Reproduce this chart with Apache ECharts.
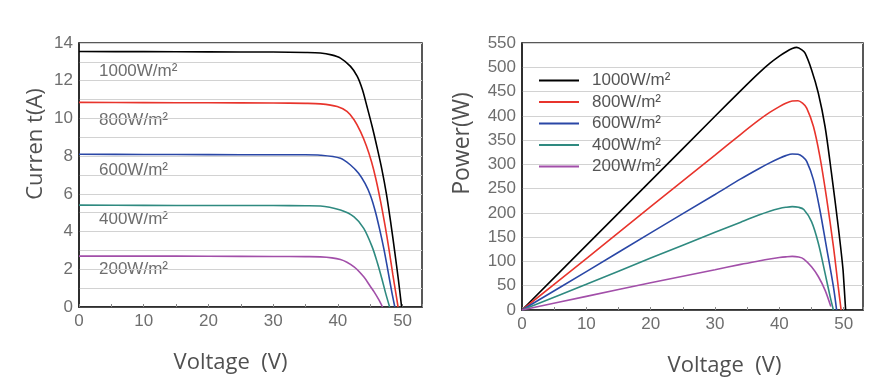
<!DOCTYPE html>
<html><head><meta charset="utf-8">
<script src="https://cdn.jsdelivr.net/npm/echarts@6/dist/echarts.min.js"></script>
<style>html,body{margin:0;padding:0;background:#fff}#c{width:896px;height:392px}</style>
</head><body><div id="c"></div>
<script>
// Irradiance levels (series names)
var irradiance = ['1000W/m²', '800W/m²', '600W/m²', '400W/m²', '200W/m²'];
var colors = ['#000000', '#e8342c', '#2a47a6', '#2f8a80', '#a24fa9'];

// I-V curves: [voltage V, current A]
var iv1000 = [[0,13.55],[10,13.54],[20,13.53],[30,13.52],[35,13.5],[37.3,13.47],[39,13.37],[40.4,13.2],[41.95,12.76],[43.0,12.23],[43.8,11.52],[44.5,10.63],[45.3,9.57],[46.1,8.4],[46.8,7.3],[47.5,6.0],[48.2,4.4],[48.8,2.9],[49.35,1.45],[49.85,0]];
var iv800  = [[0,10.85],[10,10.84],[20,10.83],[30,10.82],[35,10.8],[37.3,10.77],[39.9,10.63],[41.4,10.37],[42.5,9.93],[43.5,9.3],[44.4,8.55],[45.2,7.7],[45.9,6.75],[46.6,5.6],[47.3,4.3],[47.9,3.05],[48.5,1.7],[48.95,0.75],[49.3,0]];
var iv600  = [[0,8.1],[10,8.09],[20,8.08],[30,8.07],[35,8.07],[37.3,8.05],[40.4,7.89],[41.95,7.53],[43.2,7.09],[44.2,6.55],[45.05,5.9],[45.8,5.05],[46.5,4.05],[47.1,3.1],[47.7,2.0],[48.3,0.85],[48.8,0]];
var iv400  = [[0,5.4],[10,5.39],[20,5.38],[30,5.38],[35,5.37],[37.3,5.36],[40.4,5.14],[42.5,4.78],[44.0,4.17],[45.3,3.19],[46.1,2.35],[46.8,1.5],[47.4,0.71],[48.0,0]];
var iv200  = [[0,2.7],[10,2.7],[20,2.69],[30,2.68],[35,2.67],[37.3,2.66],[40.4,2.52],[42.5,2.13],[44.0,1.6],[45.0,1.1],[45.6,0.8],[46.3,0.4],[46.9,0]];

// P-V curves: [voltage V, power W]
var pv1000 = [[0,0],[10,133],[20,266],[30,399],[34,452],[36.8,488],[38.5,508],[40,523],[41,531.5],[42,538.5],[42.7,541],[43.5,536],[44.0,529],[45.0,495],[46.05,447],[47.1,378],[48.1,282],[49.15,172],[49.9,82],[50.3,0]];
var pv800  = [[0,0],[10,106],[20,213],[30,319],[34,362],[36.8,391],[38.5,407],[40,419],[41,426],[42,430.5],[42.9,431],[43.6,426],[44.25,416],[45.3,378],[46.3,316],[47.3,234],[48.4,131],[49.15,48],[49.6,0]];
var pv600  = [[0,0],[10,79],[20,159],[30,238],[34,270],[36.8,291],[38.5,303],[40,312.5],[41,318],[42,321.5],[42.9,321],[43.6,316],[44.25,306],[45.3,268],[46.3,206],[47.3,131],[48.4,48],[48.9,0]];
var pv400  = [[0,0],[10,53],[20,107],[30,160],[34,181],[36.8,195.5],[38.5,203.5],[40,209],[41,211.5],[42,213],[43,211.5],[43.8,207],[45.0,182],[46.05,138],[47.1,76],[47.9,27],[48.4,0]];
var pv200  = [[0,0],[10,28],[20,56],[30,83],[34,94],[36.8,101],[38.5,105],[40,108],[41,109.5],[42,110.5],[43,109],[43.8,105],[45.0,89],[46.05,69],[47.1,41],[48.0,7]];

var ivData = [iv1000, iv800, iv600, iv400, iv200];
var pvData = [pv1000, pv800, pv600, pv400, pv200];

// Axis ticks
var xMax = 53, xInterval = 10;
var iMax = 14, iInterval = 2;
var pMax = 550, pInterval = 50;

var chart = echarts.init(document.getElementById('c'));
var tickFont = {color: '#6e6e6e', fontSize: 17, fontFamily: 'Liberation Sans, Arial, sans-serif'};
var nameFont = {color: '#505050', fontSize: 22, fontFamily: 'Open Sans, sans-serif'};
var xNameFont = {color: '#505050', fontSize: 22, fontFamily: 'Liberation Sans Narrow, Open Sans, sans-serif'};

function xAxis(gi, pad) {
  return {
    type: 'value', gridIndex: gi, min: 0, max: xMax, interval: xInterval,
    name: 'Voltage  (V)', nameLocation: 'middle', nameGap: 45,
    nameTextStyle: Object.assign({padding: pad}, xNameFont),
    axisLine: {show: true, onZero: false, lineStyle: {color: '#222', width: 1.5}},
    axisTick: {show: true, inside: true, length: 3, lineStyle: {color: '#888'}},
    minorTick: {show: true, splitNumber: 2, length: 3, lineStyle: {color: '#888'}},
    axisLabel: Object.assign({margin: 6, showMaxLabel: false}, tickFont),
    splitLine: {show: false}
  };
}

var series = [];
irradiance.forEach(function (n, k) {
  series.push({name: n, type: 'line', xAxisIndex: 0, yAxisIndex: 0, data: ivData[k], symbol: 'none', showSymbol: false,
    smooth: 0.3, lineStyle: {color: colors[k], width: 1.6}, itemStyle: {color: colors[k]}});
});
irradiance.forEach(function (n, k) {
  series.push({name: n, type: 'line', xAxisIndex: 1, yAxisIndex: 1, data: pvData[k], symbol: 'none', showSymbol: false,
    smooth: 0.3, lineStyle: {color: colors[k], width: 1.6}, itemStyle: {color: colors[k]}});
});

var labelTops = [71, 120, 170, 219, 269];
var graphics = irradiance.map(function (n, k) {
  return {type: 'text', left: 99, top: labelTops[k] - 8,
    style: {text: n, fill: '#6e6e6e', fontSize: 17, fontFamily: 'Liberation Sans, Arial, sans-serif'}};
});

chart.setOption({
  animation: false,
  backgroundColor: '#fff',
  grid: [
    {left: 79, right: 474, top: 43, bottom: 85, show: true, borderColor: '#222', borderWidth: 1.5},
    {left: 522, right: 33, top: 43, bottom: 82, show: true, borderColor: '#222', borderWidth: 1.5}
  ],
  xAxis: [xAxis(0, [0, 40, 0, 0]), xAxis(1, [0, 0, 0, 64])],
  yAxis: [
    {type: 'value', gridIndex: 0, min: 0, max: iMax, interval: iInterval,
     name: 'Curren t(A)', nameLocation: 'middle', nameGap: 32,
     nameTextStyle: Object.assign({padding: [0, 0, 0, 62]}, nameFont),
     axisLine: {show: true, lineStyle: {color: '#222', width: 1.5}},
     axisTick: {show: false},
     axisLabel: Object.assign({margin: 6}, tickFont),
     splitLine: {show: true, lineStyle: {color: '#d2d2d2', width: 1}},
     minorSplitLine: {show: true, lineStyle: {color: '#d2d2d2', width: 1}},
     minorTick: {show: false, splitNumber: 2}},
    {type: 'value', gridIndex: 1, min: 0, max: pMax, interval: pInterval,
     name: 'Power(W)', nameLocation: 'middle', nameGap: 48,
     nameTextStyle: Object.assign({}, nameFont, {fontSize: 23, padding: [0, 0, 0, 66]}),
     axisLine: {show: true, lineStyle: {color: '#222', width: 1.5}},
     axisTick: {show: false},
     axisLabel: Object.assign({margin: 6}, tickFont),
     splitLine: {show: true, lineStyle: {color: '#d2d2d2', width: 1}}}
  ],
  legend: {
    orient: 'vertical', left: 539, top: 72, padding: 0, itemWidth: 40, itemHeight: 2, itemGap: 4.5,
    icon: 'rect',
    data: irradiance,
    textStyle: {color: '#555', fontSize: 17, lineHeight: 14, fontFamily: 'Liberation Sans, Arial, sans-serif', padding: [0, 0, 0, 8]}
  },
  graphic: graphics,
  series: series
});
</script></body></html>
